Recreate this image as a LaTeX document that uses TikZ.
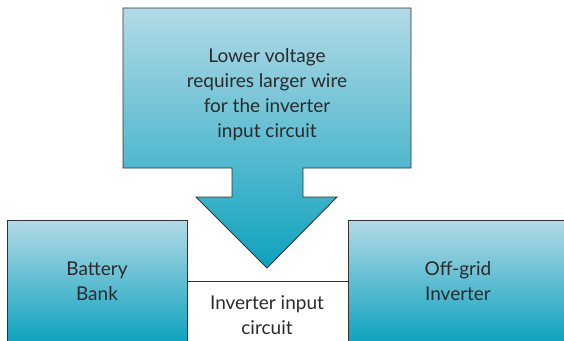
\documentclass[tikz,border=0pt]{standalone}
\usepackage{fontspec}
\setmainfont{Lato}
\definecolor{lightb}{HTML}{B3DAE6}
\definecolor{darkb}{HTML}{0EA2BE}
\definecolor{edge}{HTML}{333333}
\definecolor{txt}{HTML}{2A2A2A}
\begin{document}
\begin{tikzpicture}[x=1pt,y=-1pt,
  boxstyle/.style={draw=edge, line width=0.9pt, top color=lightb, bottom color=darkb,
    minimum height=122pt, inner sep=0pt, text=txt, align=center,
    font=\fontsize{19}{25}\selectfont},
  lbl/.style={text=txt, align=center, font=\fontsize{19}{25}\selectfont, inner sep=0pt}]
\useasboundingbox (0,0) rectangle (564,340);
\clip (0,0) rectangle (564,340);
% big arrow
\path[draw=edge, line width=0.9pt, top color=lightb, bottom color=darkb]
  (123,8) -- (411,8) -- (411,168) -- (303,168) -- (303,197) -- (337,197)
  -- (267,268) -- (196,197) -- (232,197) -- (232,168) -- (123,168) -- cycle;
\node[lbl] (note) at (267,95) {Lower voltage\\requires larger wire\\for the inverter\\input circuit};
% boxes
\node[boxstyle, minimum width=180pt] (bat) at (97,281) {Battery\\Bank};
\node[boxstyle, minimum width=220pt] (inv) at (458,281) {Off-grid\\Inverter};
\draw[edge, line width=0.8pt] (bat.east) -- (inv.west);
\node[lbl] (circ) at (267,315) {Inverter input\\circuit};
\end{tikzpicture}
\end{document}
